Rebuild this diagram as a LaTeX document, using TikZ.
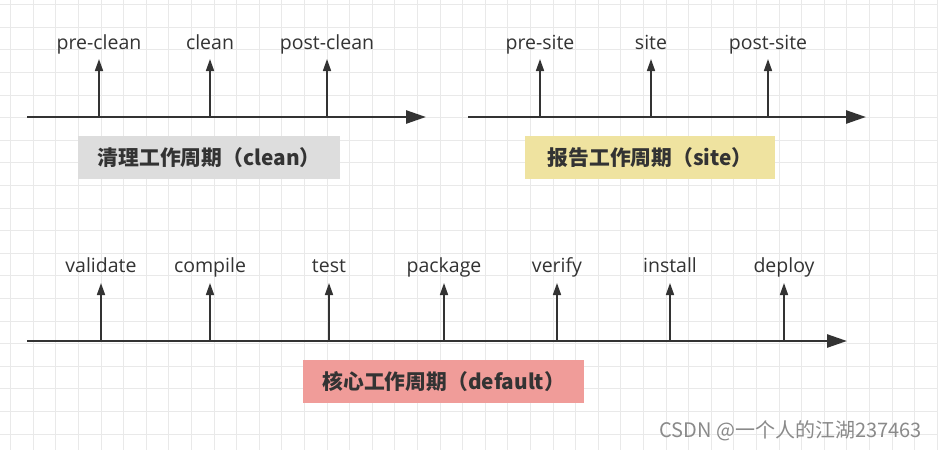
\documentclass[tikz,border=0pt]{standalone}
\usepackage{fontspec}
\setmainfont{Noto Sans CJK SC}
\newfontfamily\lblfont{Open Sans}
\usetikzlibrary{arrows.meta}
\definecolor{ink}{HTML}{333333}
\definecolor{gridc}{HTML}{E9E9E9}
\definecolor{boxgray}{HTML}{DDDDDD}
\definecolor{boxyellow}{HTML}{EFE3A0}
\definecolor{boxred}{HTML}{F09C99}
\definecolor{wm}{HTML}{8A8A8A}
\tikzset{
  axisline/.style={draw=ink, line width=2.6pt, -{Triangle[length=20pt,width=13pt]}},
  tickline/.style={draw=ink, line width=1.6pt, -{Triangle[length=12pt,width=8pt]}},
  lbl/.style={font=\lblfont\fontsize{19.5}{22}\selectfont, text=ink, inner sep=0pt, anchor=base},
  phase/.style={minimum height=43pt, inner sep=0pt, anchor=north west, font=\bfseries\fontsize{20.8}{24}\selectfont, text=ink},
}
\begin{document}
\begin{tikzpicture}[x=1pt,y=-1pt]
\useasboundingbox (0,0) rectangle (938,450);
\fill[white] (0,0) rectangle (938,450);
% grid
\foreach \i in {0,...,41} {\draw[gridc, line width=0.8pt] (10.5+\i*22.6,0) -- (10.5+\i*22.6,450);}
\foreach \j in {0,...,19} {\draw[gridc, line width=0.8pt] (0,4.5+\j*22.6) -- (938,4.5+\j*22.6);}

% ---- clean lifecycle
\coordinate (c0) at (27,117);
\coordinate (c1) at (426,117);
\draw[axisline] (c0) -- (c1);
\node[phase, fill=boxgray, minimum width=262pt] (cbox) at (78,136) {清理工作周期（clean）};
\foreach \n/\x/\t in {cpre/99/pre-clean, cmid/210/clean, cpost/327/post-clean} {
  \coordinate (\n b) at (\x,117);
  \coordinate (\n t) at (\x,59);
  \node[lbl] (\n) at (\x,49) {\t};
  \draw[tickline] (\n b) -- (\n t);
}

% ---- site lifecycle
\coordinate (s0) at (468,117);
\coordinate (s1) at (866,117);
\draw[axisline] (s0) -- (s1);
\node[phase, fill=boxyellow, minimum width=250pt] (sbox) at (525,136) {报告工作周期（site）};
\foreach \n/\x/\t in {spre/540/pre-site, smid/651/site, spost/768/post-site} {
  \coordinate (\n b) at (\x,117);
  \coordinate (\n t) at (\x,59);
  \node[lbl] (\n) at (\x,49) {\t};
  \draw[tickline] (\n b) -- (\n t);
}

% ---- default lifecycle
\coordinate (d0) at (27,341);
\coordinate (d1) at (847,341);
\draw[axisline] (d0) -- (d1);
\node[phase, fill=boxred, minimum width=281pt] (dbox) at (303,360) {核心工作周期（default）};
\foreach \n/\x/\t in {dval/101/validate, dcomp/210/compile, dtest/329/test, dpack/444/package, dver/557/verify, dinst/670/install, ddep/784/deploy} {
  \coordinate (\n b) at (\x,341);
  \coordinate (\n t) at (\x,283);
  \node[lbl] (\n) at (\x,272) {\t};
  \draw[tickline] (\n b) -- (\n t);
}

% watermark
\node[font=\fontsize{20}{23}\selectfont, text=wm, inner sep=0pt, anchor=base east] (wmark) at (922,437) {CSDN @一个人的江湖237463};
\end{tikzpicture}
\end{document}
